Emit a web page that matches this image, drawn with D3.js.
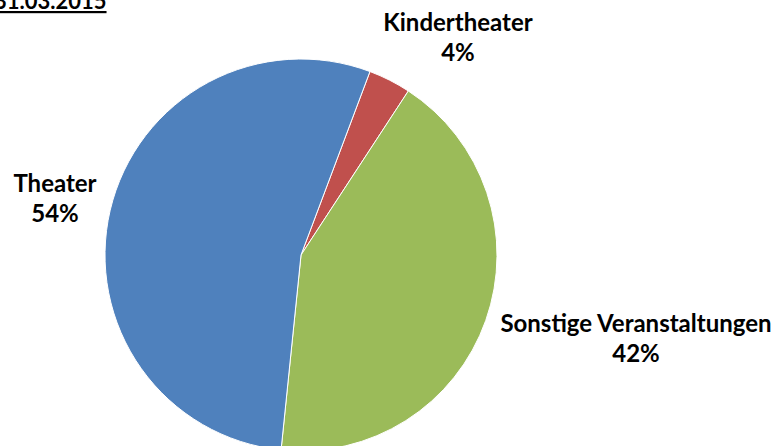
<!DOCTYPE html>
<html>
<head>
<meta charset="utf-8">
<script src="https://cdn.jsdelivr.net/npm/d3@7"></script>
<style>
  body { margin: 0; background: #fff; }
  text { font-family: Lato, "Open Sans", sans-serif; font-weight: bold; fill: #000; }
</style>
</head>
<body>
<script>
var width = 773,
    height = 446;

// data, in Excel order (first slice starts a little right of 12 o'clock)
var categories = ["Kindertheater", "Sonstige Veranstaltungen", "Theater"];
var values = [3.5, 42.4, 54.1];
var labels = ["4%", "42%", "54%"];
var colors = ["#C0504D", "#9BBB59", "#4F81BD"];
var title = "31.03.2015";

var cx = 301, cy = 255, radius = 196;
var startAngle = 20.6 * Math.PI / 180;

// label position: centre x, baseline of first line
var labelPos = [[458, 31], [636, 332], [55, 192]];
var lineGap = 30;

var svg = d3.select("body")
    .append("svg")
    .attr("width", width)
    .attr("height", height);

var pie = d3.pie()
    .sort(null)
    .value(function(d) { return d; })
    .startAngle(startAngle)
    .endAngle(startAngle + 2 * Math.PI);

var arc = d3.arc()
    .innerRadius(0)
    .outerRadius(radius);

svg.append("g")
    .attr("transform", "translate(" + cx + "," + cy + ")")
    .selectAll("path")
    .data(pie(values))
    .enter()
        .append("path")
        .attr("d", arc)
        .attr("fill", function(d, i) { return colors[i]; })
        .attr("stroke", "#fff")
        .attr("stroke-width", 1);

var lbl = svg.append("g")
    .selectAll("text")
    .data(categories)
    .enter()
        .append("text")
        .attr("text-anchor", "middle")
        .style("font-size", "24px");

lbl.append("tspan")
    .attr("x", function(d, i) { return labelPos[i][0]; })
    .attr("y", function(d, i) { return labelPos[i][1]; })
    .text(function(d) { return d; });

lbl.append("tspan")
    .attr("x", function(d, i) { return labelPos[i][0]; })
    .attr("y", function(d, i) { return labelPos[i][1] + lineGap; })
    .text(function(d, i) { return labels[i]; });

svg.append("text")
    .attr("x", -6)
    .attr("y", 9)
    .style("font-size", "22px")
    .style("text-decoration", "underline")
    .text(title);
</script>
</body>
</html>
